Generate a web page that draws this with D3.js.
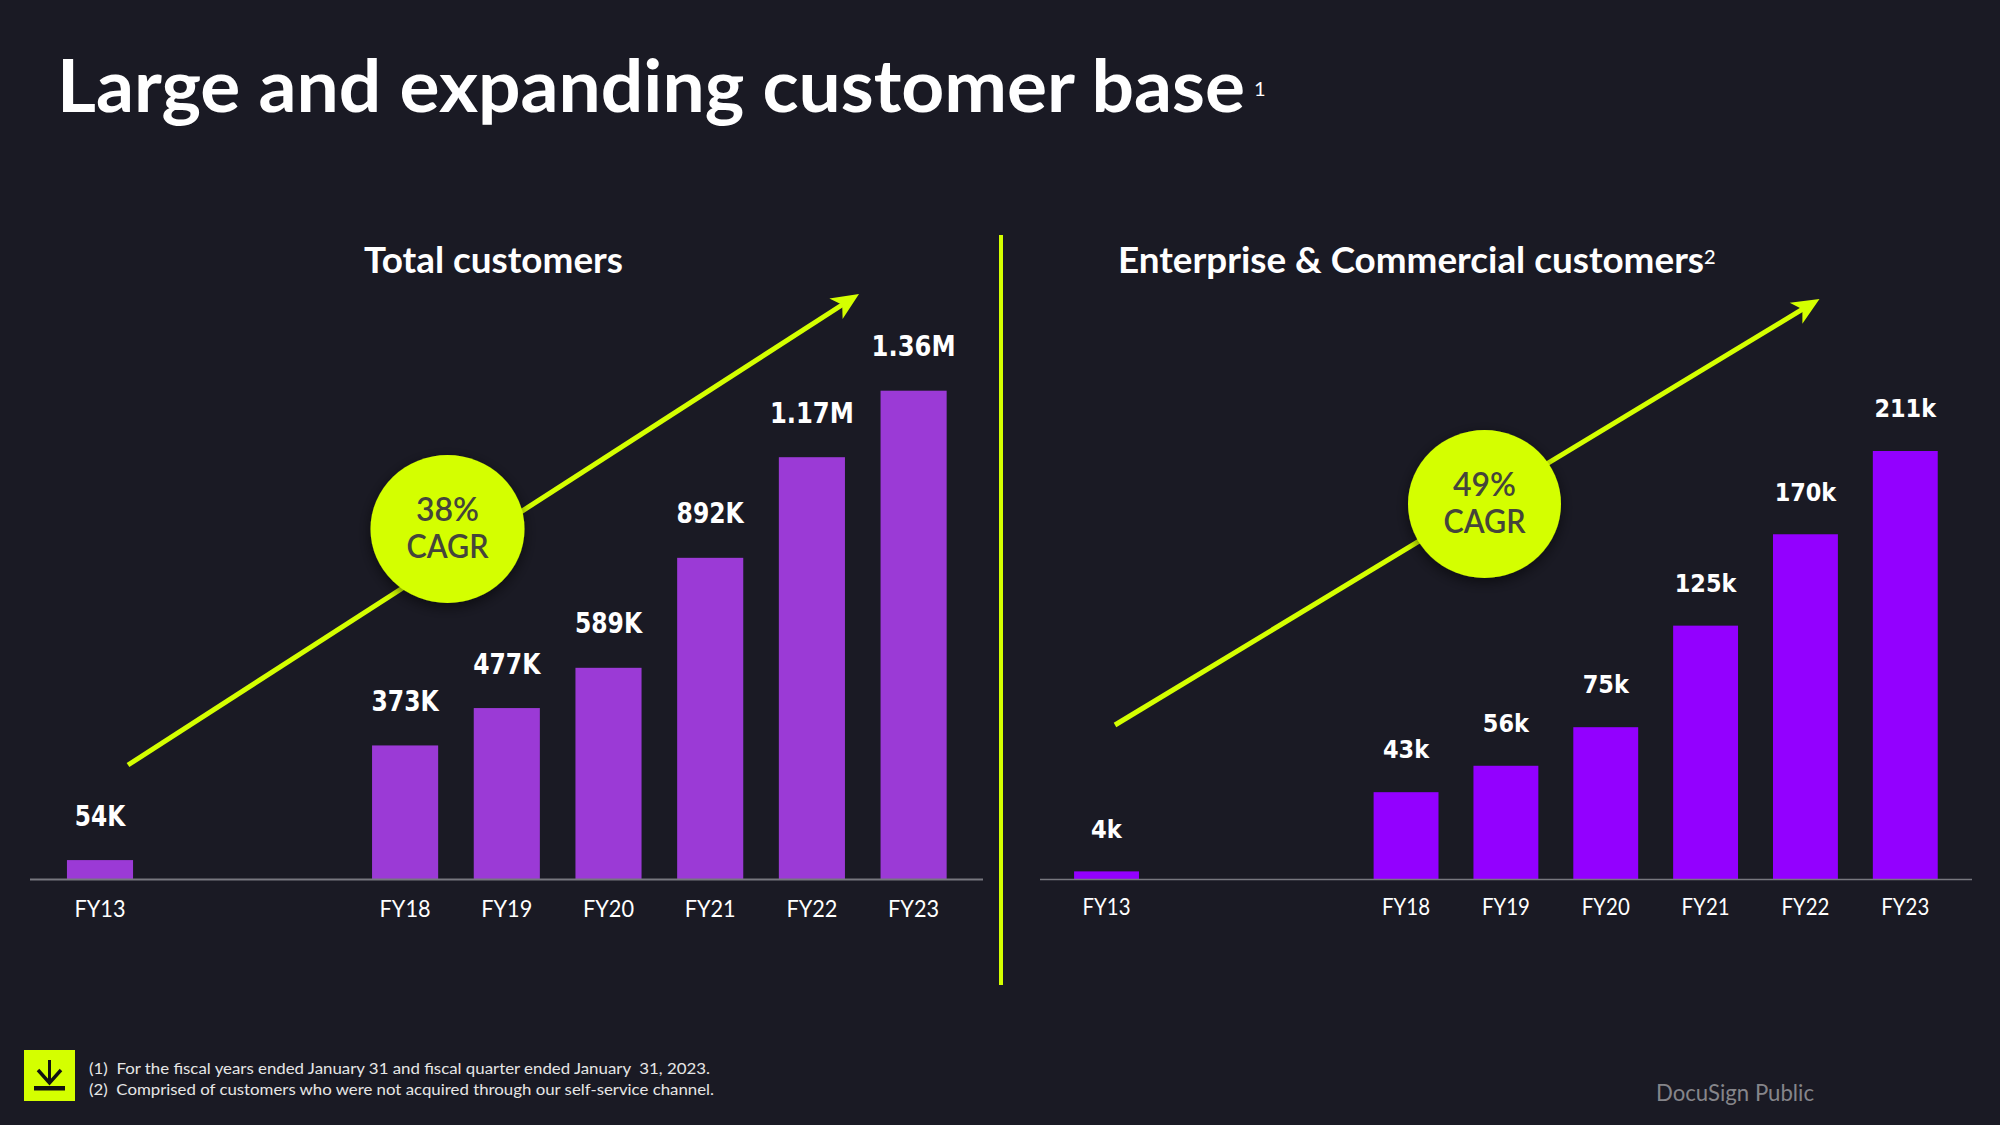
<!DOCTYPE html>
<html><head><meta charset="utf-8">
<script src="https://cdn.jsdelivr.net/npm/d3@7/dist/d3.min.js"></script>
<style>html,body{margin:0;padding:0;background:#1a1a24;overflow:hidden}svg{display:block}</style>
</head><body><svg id="c" width="2000" height="1125"></svg>
<script>
const categories = ["FY13","gap1","gap2","FY18","FY19","FY20","FY21","FY22","FY23"];
const totalCategories = ["FY13","FY18","FY19","FY20","FY21","FY22","FY23"];
const totalValues = [54,373,477,589,895,1175,1360];
const totalLabels = ["54K","373K","477K","589K","892K","1.17M","1.36M"];
const entValues = [4,43,56,75,125,170,211];
const entLabels = ["4k","43k","56k","75k","125k","170k","211k"];
const footnotes = ["(1)\u00a0\u00a0For the fiscal years ended January 31 and fiscal quarter ended January\u00a0\u00a031, 2023.",
                   "(2)\u00a0\u00a0Comprised of customers who were not acquired through our self-service channel."];

const LIME="#d4ff00", INK="#45453b", BG="#1a1a24";
const UI="Lato, 'Noto Sans', sans-serif";
const NUM="'DejaVu Sans', sans-serif";
const svg=d3.select("#c");
svg.append("rect").attr("width",2000).attr("height",1125).attr("fill",BG);
const defs=svg.append("defs");
const f=defs.append("filter").attr("id","sh").attr("x","-30%").attr("y","-30%").attr("width","160%").attr("height","160%");
f.append("feDropShadow").attr("dx",0).attr("dy",4).attr("stdDeviation",7).attr("flood-color","#000").attr("flood-opacity",.55);

function fit(t,w){ t.attr("textLength",w).attr("lengthAdjust","spacingAndGlyphs"); return t; }
function txt(x,y,s,size,weight,fill,anchor,family,w){
  const t=svg.append("text").attr("x",x).attr("y",y).text(s).attr("font-size",size).attr("font-weight",weight)
    .attr("fill",fill).attr("text-anchor",anchor||"start").attr("font-family",family||UI);
  if(w) fit(t,w);
  return t;
}

function panel(o){
  const x=d3.scaleBand().domain(categories).range(o.xr).paddingInner(.35).paddingOuter(.175);
  const y=d3.scaleLinear().domain([0,o.max]).range([879.5,o.top]);
  const data=o.cats.map((c,i)=>({c,v:o.vals[i],l:o.labels[i]}));

  // arrow
  const [x0,y0,x1,y1]=o.arrow;
  const ang=Math.atan2(y1-y0,x1-x0);
  const head=(d,a)=>[x1-d*Math.cos(ang+a),y1-d*Math.sin(ang+a)];
  svg.append("line").attr("x1",x0).attr("y1",y0).attr("x2",x1-12*Math.cos(ang)).attr("y2",y1-12*Math.sin(ang))
    .attr("stroke",LIME).attr("stroke-width",5);
  svg.append("path").attr("fill",LIME)
    .attr("d",d3.line()([[x1,y1],head(30,.42),head(20,0),head(30,-.42)])+"Z");

  // bars
  svg.append("g").selectAll("rect").data(data).join("rect")
    .attr("x",d=>x(d.c)).attr("width",x.bandwidth())
    .attr("y",d=>y(d.v)).attr("height",d=>y(0)-y(d.v)).attr("fill",o.color);

  // baseline
  svg.append("line").attr("x1",o.base[0]).attr("x2",o.base[1]).attr("y1",879.5).attr("y2",879.5)
    .attr("stroke","#77777f").attr("stroke-width",o.baseW);

  // axis
  const ax=svg.append("g").attr("transform","translate(0,879.5)")
    .call(d3.axisBottom(x).tickValues(o.cats).tickSize(0).tickPadding(o.tickPad));
  ax.select(".domain").remove();
  ax.selectAll("text").attr("font-family",UI).attr("font-size",o.tickSize).attr("fill","#fff").attr("dy",0)
    .attr("y",o.tickY).attr("dominant-baseline","auto").attr("textLength",o.tickW).attr("lengthAdjust","spacingAndGlyphs");

  // labels
  svg.append("g").selectAll("text").data(data).join("text")
    .attr("x",d=>x(d.c)+x.bandwidth()/2).attr("y",d=>y(d.v)-o.lblOff)
    .attr("text-anchor","middle").attr("font-family",NUM).attr("font-weight",700)
    .attr("font-size",o.lblSize).attr("fill","#fff").text(d=>d.l)
    .attr("textLength",d=>d.l.length*o.lblCh).attr("lengthAdjust","spacingAndGlyphs");

  // CAGR bubble
  const [cx,cy,rx,ry]=o.bubble;
  svg.append("ellipse").attr("cx",cx).attr("cy",cy).attr("rx",rx).attr("ry",ry).attr("fill",LIME).attr("filter","url(#sh)");
  txt(cx,cy-8.5,o.cagr,32,600,INK,"middle",UI,63);
  txt(cx,cy+28.5,"CAGR",32,600,INK,"middle",UI,82);
}

panel({xr:[49.15,964.45],max:1360,top:390.7,cats:totalCategories,vals:totalValues,labels:totalLabels,color:"#9b3ad6",
  base:[30,983],baseW:2,tickPad:30,tickSize:24,tickY:37.5,tickW:51,lblOff:34.5,lblSize:28,lblCh:16.8,
  arrow:[128,765,859,294],bubble:[447.5,529,77,74],cagr:"38%"});
panel({xr:[1056.6,1955.2],max:211,top:451,cats:totalCategories,vals:entValues,labels:entLabels,color:"#9300ff",
  base:[1040,1972],baseW:1.5,tickPad:30,tickSize:23,tickY:35.5,tickW:48,lblOff:33.7,lblSize:25.5,lblCh:15.4,
  arrow:[1115,725,1819.5,299],bubble:[1484.5,504,76.5,74],cagr:"49%"});

// divider
svg.append("rect").attr("x",999).attr("y",235).attr("width",4).attr("height",750).attr("fill",LIME);

// titles
txt(57,112,"Large and expanding customer base",73,700,"#fff","start",UI,1188);
txt(1254,96,"1",20,400,"#fff");
txt(364,272.5,"Total customers",36.5,700,"#fff","start",UI,259);
txt(1118,272.5,"Enterprise & Commercial customers",36.5,700,"#fff","start",UI,586);
txt(1704,264,"2",20,500,"#fff");

// footer
svg.append("rect").attr("x",24).attr("y",1050).attr("width",51).attr("height",51).attr("fill",LIME);
svg.append("rect").attr("x",34).attr("y",1086).attr("width",31).attr("height",4.5).attr("fill","#111");
svg.append("rect").attr("x",48).attr("y",1060).attr("width",3).attr("height",22).attr("fill","#111");
svg.append("path").attr("d","M38 1070 L49.5 1083 L61 1070").attr("fill","none").attr("stroke","#111").attr("stroke-width",3.4);
txt(89,1074,footnotes[0],16,400,"#e6e6e6","start",UI,621);
txt(89,1095,footnotes[1],16,400,"#e6e6e6","start",UI,625);
txt(1656,1100.5,"DocuSign Public",23,400,"#85858a","start",UI,158);
</script></body></html>
